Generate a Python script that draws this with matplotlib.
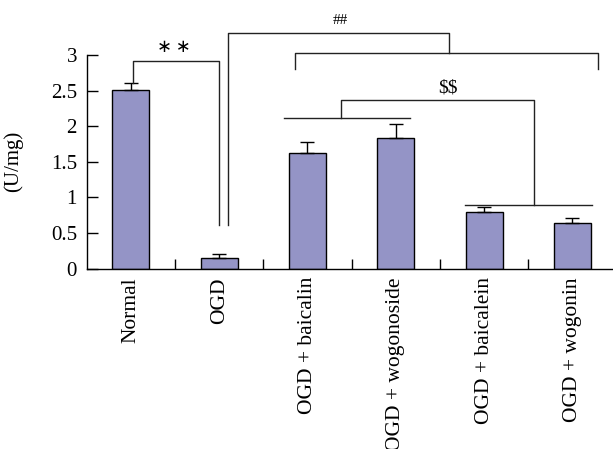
import numpy as np
import matplotlib.pyplot as plt

# data
groups = ["Normal", "OGD", "OGD + baicalin", "OGD + wogonoside",
          "OGD + baicalein", "OGD + wogonin"]
activity = [2.51, 0.15, 1.63, 1.84, 0.80, 0.645]
err = [0.09, 0.06, 0.15, 0.19, 0.07, 0.065]

plt.rcParams.update({
    "font.family": ["Liberation Serif", "DejaVu Serif"],
    "font.size": 15,
    "axes.linewidth": 1.0,
})

fig = plt.figure(figsize=(6.13, 4.49), dpi=100)
ax = fig.add_axes([0.1414, 0.4016, 0.8586, 0.4759])

x = np.arange(len(groups))
ax.bar(x, activity, width=0.42, color="#9494c6", edgecolor="black", linewidth=1.0,
       yerr=[np.zeros(len(err)), err], capsize=5,
       error_kw=dict(elinewidth=1.0, capthick=1.0, ecolor="black"))

ax.set_xlim(-0.5, 5.46)
ax.set_ylim(0, 3)
ax.set_yticks([0, 0.5, 1, 1.5, 2, 2.5, 3])
ax.set_yticklabels(["0", "0.5", "1", "1.5", "2", "2.5", "3"])
ax.tick_params(axis="y", direction="in", length=8, width=1.0, pad=7)

# category ticks between bars, labels at bar centers
ax.set_xticks(np.arange(0.5, 5.0, 1.0))
ax.set_xticklabels([])
ax.tick_params(axis="x", which="major", direction="in", length=7, width=1.0)
ax.set_xticks(x, minor=True)
ax.set_xticklabels(groups, minor=True, rotation=90, va="top", ha="center",
                   fontsize=15.5)
ax.tick_params(axis="x", which="minor", length=0, pad=6)

ax.spines["top"].set_visible(False)
ax.spines["right"].set_visible(False)
ax.set_ylabel("(U/mg)", fontsize=15)
ax.yaxis.set_label_coords(-0.12, 0.50)

kw = dict(color="#222222", lw=1.0, clip_on=False)
# ** : Normal vs OGD
ax.plot([0.02, 0.02, 1.0, 1.0], [2.60, 2.92, 2.92, 0.62], **kw)
ax.text(0.49, 3.11, "\u2217\u2009\u2217", ha="center", va="center", fontsize=13,
        family="DejaVu Sans", clip_on=False)

# ## : OGD vs treatments
ax.plot([1.10, 1.10, 3.60, 3.60], [0.62, 3.31, 3.31, 3.03], **kw)
ax.plot([1.86, 1.86, 5.29, 5.29], [2.80, 3.03, 3.03, 2.80], **kw)
ax.text(2.37, 3.40, "##", ha="center", va="bottom", fontsize=11, clip_on=False)

# $$ : glycosides vs aglycones
ax.plot([1.73, 3.16], [2.11, 2.11], **kw)
ax.plot([2.38, 2.38, 4.56, 4.56], [2.11, 2.37, 2.37, 0.90], **kw)
ax.plot([3.78, 5.22], [0.90, 0.90], **kw)
ax.text(3.59, 2.42, r"\$\$", ha="center", va="bottom", fontsize=14, clip_on=False)

fig.savefig("out.png", dpi=100)
